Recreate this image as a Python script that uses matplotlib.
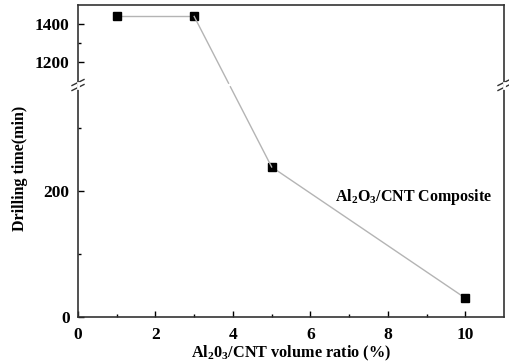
import matplotlib
matplotlib.use("Agg")
import matplotlib.pyplot as plt
from matplotlib.lines import Line2D
import numpy as np

ratio = [1, 3, 5, 10]
drill_time = [1440, 1440, 238, 30]
x_ticks = [0, 2, 4, 6, 8, 10]
low_yticks = [0, 200]
high_yticks = [1200, 1400]

plt.rcParams['font.family'] = ['Liberation Serif']
plt.rcParams['font.weight'] = 'bold'
plt.rcParams['mathtext.fontset'] = 'custom'
plt.rcParams['mathtext.rm'] = 'Liberation Serif:bold'
plt.rcParams['mathtext.it'] = 'Liberation Serif:bold'
plt.rcParams['mathtext.bf'] = 'Liberation Serif:bold'

W, H = 509, 363
fig = plt.figure(figsize=(W / 100, H / 100), dpi=100)
left, right = 78 / W, 504 / W
ybot, ybrk, ytop = 1 - 317 / H, 1 - 85 / H, 1 - 5 / H
axL = fig.add_axes([left, ybot, right - left, ybrk - ybot])
axU = fig.add_axes([left, ybrk, right - left, ytop - ybrk])

axL.set_xlim(0, 11)
axU.set_xlim(0, 11)
axL.set_ylim(0, 368)
axU.set_ylim(1080, 1500)

lc = '#b4b4b4'
mk = dict(marker='s', ms=5.5, mfc='black', mec='black', ls='none', zorder=5, clip_on=False)
for ax in (axL, axU):
    for s in ax.spines.values():
        s.set_linewidth(1.2)
        s.set_color('#333333')
    ax.tick_params(direction='in', length=4, width=1, labelsize=12.5, right=False, top=False)
    ax.tick_params(which='minor', direction='in', length=2.5, width=1)
    ax.tick_params(axis='y', pad=6)
axL.tick_params(axis='x', pad=7)
axL.spines['top'].set_visible(False)
axU.spines['bottom'].set_visible(False)
axU.tick_params(bottom=False, labelbottom=False)

axL.set_xticks(x_ticks)
axL.set_xticks([1, 3, 5, 7, 9], minor=True)
axL.set_yticks(low_yticks)
axL.set_yticks([100, 300], minor=True)
axU.set_yticks(high_yticks)
axU.set_yticks([1300], minor=True)
for lab in axL.get_xticklabels() + axL.get_yticklabels() + axU.get_yticklabels():
    lab.set_fontweight('bold')

# segments within each panel
axU.plot(ratio[:2], drill_time[:2], color=lc, lw=1)
axL.plot(ratio[2:], drill_time[2:], color=lc, lw=1)
axU.plot(ratio[:2], drill_time[:2], **mk)
axL.plot(ratio[2:], drill_time[2:], **mk)

# segment crossing the break, drawn straight in pixel space
fig.canvas.draw()
p0 = axU.transData.transform((ratio[1], drill_time[1]))
p1 = axL.transData.transform((ratio[2], drill_time[2]))
ybreak_px = fig.transFigure.transform((0, ybrk))[1]
t = (p0[1] - ybreak_px) / (p0[1] - p1[1])
gap = 2 / np.hypot(*(p1 - p0))
inv = fig.transFigure.inverted()
for a, b in ((0, t - gap), (t + gap, 1)):
    q0 = inv.transform(p0 + (p1 - p0) * a)
    q1 = inv.transform(p0 + (p1 - p0) * b)
    fig.add_artist(Line2D([q0[0], q1[0]], [q0[1], q1[1]], color=lc, lw=1, zorder=1))

# break marks
for xf in (left, right):
    for dy in (-2.5, 2.5):
        fig.add_artist(Line2D([xf - 6 / W, xf + 6 / W], [ybrk + (dy - 3) / H, ybrk + (dy + 3) / H],
                              color='#333333', lw=1))
    fig.add_artist(Line2D([xf, xf], [ybrk - 2.5 / H, ybrk + 2.5 / H], color='white', lw=2))

axL.text(8.68, 190, 'Al$_2$O$_3$/CNT Composite', fontsize=11.5, fontweight='bold',
         ha='center', va='center')
axL.set_xlabel('Al$_2$0$_3$/CNT volume ratio (%)', fontsize=11.7, fontweight='bold', labelpad=1)
fig.text(20 / W, 1 - 168 / H, 'Drilling time(min)', rotation=90, fontsize=11.5,
         fontweight='bold', ha='center', va='center')

fig.savefig('out.png', dpi=100)
